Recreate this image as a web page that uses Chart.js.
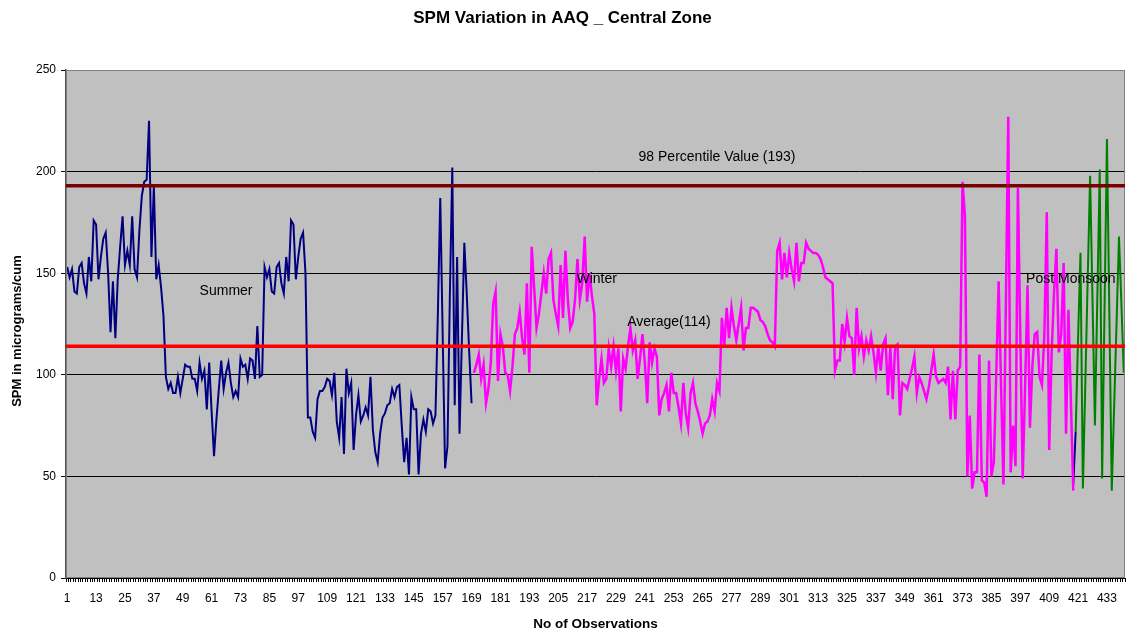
<!DOCTYPE html>
<html>
<head>
<meta charset="utf-8">
<script src="https://cdn.jsdelivr.net/npm/chart.js@4"></script>
<style>
html,body{margin:0;padding:0;background:#fff;}
#wrap{width:1128px;height:632px;}
</style>
</head>
<body>
<div id="wrap"><canvas id="c" width="1128" height="632"></canvas></div>
<script>
// Summer observations (1-169)
const summer = [
  153,148,152,141,140,153,155,145,140,158,
  146,176,174,147,158,167,170,150,121,146,
  118,147,163,178,154,161,154,178,152,148,
  171,188,195,196,225,158,193,147,154,143,
  129,99,93,96,91,91,99,91,98,105,
  104,104,98,98,92,106,98,102,83,106,
  82,60,78,93,107,93,101,106,96,89,
  92,89,108,104,105,98,108,107,98,124,
  99,100,153,148,152,141,140,153,155,145,
  140,158,146,176,174,147,158,167,170,150,
  79,79,72,69,88,92,92,94,98,97,
  90,101,77,69,89,61,103,91,96,63,
  80,90,77,80,84,80,99,73,62,57,
  71,79,81,85,86,93,89,94,95,75,
  57,69,51,89,83,83,51,71,78,72,
  83,82,76,80,130,187,120,54,65,140,
  202,85,158,71,118,165,140,112,86
];
// Winter observations (170-419)
const winter = [
  101,105,110,98,105,86,93,106,135,141,
  97,120,114,101,100,92,104,120,123,131,
  118,110,145,101,163,143,123,130,140,150,
  140,157,160,137,130,124,154,128,161,137,
  123,126,137,157,137,145,168,136,150,139,
  130,85,98,108,96,98,113,104,114,102,
  113,82,108,103,114,123,112,117,98,108,
  120,106,86,116,106,113,109,80,88,91,
  95,82,101,91,91,84,76,96,81,74,
  91,96,86,82,77,71,76,77,80,88,
  82,96,92,128,114,133,118,133,124,117,
  125,133,112,123,123,133,133,132,131,127,
  126,124,120,117,116,114,161,165,147,160,
  148,160,152,146,165,146,155,155,165,162,
  161,160,160,159,157,153,148,147,146,145,
  102,107,107,125,116,128,119,118,100,133,
  113,119,109,117,112,119,111,101,114,102,
  115,118,90,114,88,114,115,80,96,95,
  93,98,103,109,91,99,96,92,88,94,
  102,110,99,96,97,98,96,104,78,102,
  78,102,104,195,178,50,80,44,52,52,
  110,48,47,40,107,50,57,100,146,95,
  46,135,227,52,75,55,192,120,49,95,
  144,74,104,120,121,99,95,120,180,63,
  110,140,162,111,120,155,71,132,88,43
];
// short blue link (observations 419-420)
const summerLink = [46, 72];
// Post monsoon observations (420-440)
const postMonsoon = [72,118,160,44,95,147,198,137,75,138,201,49,133,216,130,43,85,126,168,135,101];

const averageValue = 114;
const percentile98Value = 193;

const nObs = summer.length + winter.length + postMonsoon.length;
const categories = Array.from({length: nObs}, (_, i) => String(i + 1));
const xLabelEvery = 12;
const yTitle = 'SPM in micrograms/cum';

// text notes anchored in data units: observation number and SPM value
const noteText = ['Summer', 'Winter', 'Average(114)', '98 Percentile Value (193)', 'Post Monsoon'];
const noteObs = [67, 221, 251, 271, 418];
const noteVal = [141, 147, 126, 207, 147];

function place(start, values) {
  const arr = new Array(nObs).fill(null);
  values.forEach((v, i) => { arr[start + i] = v; });
  return arr;
}

const FONT = '"Liberation Sans", Arial, Helvetica, sans-serif';
Chart.defaults.font.family = FONT;
Chart.defaults.color = '#000';

const plotDecor = {
  id: 'plotDecor',
  beforeDraw(chart) {
    const {ctx, chartArea: a} = chart;
    ctx.save();
    ctx.fillStyle = '#ffffff';
    ctx.fillRect(0, 0, chart.width, chart.height);
    ctx.fillStyle = '#c0c0c0';
    ctx.fillRect(a.left, a.top, a.right - a.left, a.bottom - a.top);
    ctx.restore();
  },
  afterDatasetsDraw(chart) {
    const {ctx, chartArea: a, scales: {x, y}} = chart;
    ctx.save();
    ctx.strokeStyle = '#808080';
    ctx.lineWidth = 1;
    ctx.strokeRect(a.left + 0.5, a.top + 0.5, a.right - a.left - 1, a.bottom - a.top - 1);
    const lines = [[percentile98Value, '#7a0000', 3.5], [averageValue, '#ff0000', 3.5]];
    for (const [v, c, w] of lines) {
      const py = y.getPixelForValue(v);
      ctx.strokeStyle = c;
      ctx.lineWidth = w;
      ctx.beginPath();
      ctx.moveTo(a.left, py);
      ctx.lineTo(a.right, py);
      ctx.stroke();
    }
    ctx.fillStyle = '#000';
    ctx.font = '14px ' + FONT;
    ctx.textAlign = 'center';
    ctx.textBaseline = 'middle';
    noteText.forEach((t, i) => {
      ctx.fillText(t, x.getPixelForValue(noteObs[i] - 1), y.getPixelForValue(noteVal[i]));
    });
    // vertical axis title, slightly below the plot centre as in the original
    ctx.font = 'bold 13px ' + FONT;
    ctx.translate(17, (a.top + a.bottom) / 2 + 7);
    ctx.rotate(-Math.PI / 2);
    ctx.fillText(yTitle, 0, 0);
    ctx.restore();
  }
};

const lineDs = (data, color, width) => ({
  data, borderColor: color, backgroundColor: color, borderWidth: width,
  pointRadius: 0, pointHoverRadius: 0, tension: 0, spanGaps: false, fill: false
});

new Chart(document.getElementById('c'), {
  type: 'line',
  data: {
    labels: categories,
    datasets: [
      lineDs(place(0, summer), '#000080', 2),
      lineDs(place(summer.length, winter), '#ff00ff', 2.5),
      lineDs(place(summer.length + winter.length - 1, summerLink), '#000080', 2),
      lineDs(place(summer.length + winter.length, postMonsoon), '#008000', 2)
    ]
  },
  options: {
    responsive: false,
    animation: false,
    events: [],
    layout: {padding: {left: 0, right: 3, top: 0, bottom: 0}},
    plugins: {
      legend: {display: false},
      tooltip: {enabled: false},
      title: {
        display: true,
        text: 'SPM Variation in AAQ _ Central Zone',
        font: {size: 17, weight: 'bold'},
        color: '#000',
        padding: {top: 8, bottom: 41.6}
      }
    },
    scales: {
      x: {
        type: 'category',
        offset: true,
        grid: {offset: true, drawOnChartArea: false, drawTicks: true, tickLength: 4, color: '#000', lineWidth: 1},
        border: {display: true, color: '#000', width: 1},
        ticks: {
          autoSkip: false, maxRotation: 0, minRotation: 0, padding: 9,
          font: {size: 12}, color: '#000',
          callback: (v, i) => (i % xLabelEvery === 0 ? categories[i] : '')
        },
        title: {display: true, text: 'No of Observations', font: {size: 13.5, weight: 'bold'}, color: '#000', padding: {top: 0, bottom: 0}},
        afterFit: (s) => { s.height = 54; s.paddingLeft = 0; s.paddingRight = 0; }
      },
      y: {
        min: 0, max: 250,
        grid: {color: '#000', lineWidth: 1, drawTicks: true, tickLength: 5},
        border: {display: true, color: '#505050', width: 1.5},
        ticks: {stepSize: 50, padding: 5, font: {size: 12}, color: '#000'},
        title: {display: false},
        afterFit: (s) => { s.width = 66; s.paddingTop = 0; s.paddingBottom = 0; }
      }
    }
  },
  plugins: [plotDecor]
});
</script>
</body>
</html>
